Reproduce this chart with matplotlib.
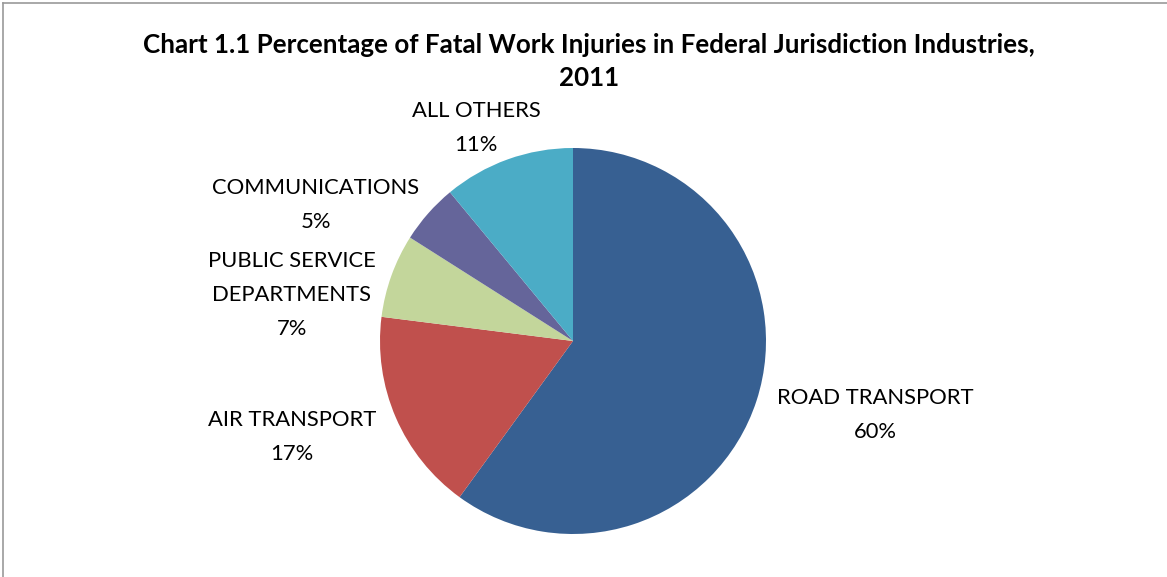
import matplotlib.pyplot as plt
from matplotlib.lines import Line2D

# data
labels = ['ROAD TRANSPORT', 'AIR TRANSPORT', 'PUBLIC SERVICE\nDEPARTMENTS', 'COMMUNICATIONS', 'ALL OTHERS']
shares = [60, 17, 7, 5, 11]
colors = ['#376092', '#C0504D', '#C3D69B', '#65659A', '#4BACC6']

plt.rcParams['font.family'] = ['Lato', 'DejaVu Sans']

fig = plt.figure(figsize=(11.67, 5.77), dpi=100)
ax = fig.add_axes([380 / 1167, 43 / 577, 386 / 1167, 386 / 577])

ax.pie(shares, colors=colors, startangle=90, counterclock=False,
       radius=1.0, wedgeprops={'linewidth': 0})
ax.set_xlim(-1, 1)
ax.set_ylim(-1, 1)
ax.set_aspect('equal')
ax.axis('off')

# label positions (in radius units)
label_pos = [(1.565, -0.383), (-1.456, -0.497), (-1.456, 0.238), (-1.332, 0.705), (-0.503, 1.104)]
for lab, val, (x, y) in zip(labels, shares, label_pos):
    ax.text(x, y, f"{lab}\n{val}%", ha='center', va='center', fontsize=15.8,
            linespacing=1.85, color='black', clip_on=False)

fig.text(0.505, 0.893, 'Chart 1.1 Percentage of Fatal Work Injuries in Federal Jurisdiction Industries,\n2011',
         ha='center', va='center', fontsize=18.7, fontweight='bold', linespacing=1.45)

# chart border (top and left visible)
fig.add_artist(Line2D([3 / 1167, 3 / 1167], [0, 1 - 3 / 577], color='#999999', lw=1.2))
fig.add_artist(Line2D([3 / 1167, 1], [1 - 3 / 577, 1 - 3 / 577], color='#999999', lw=1.2))

fig.savefig('out.png', dpi=100)
